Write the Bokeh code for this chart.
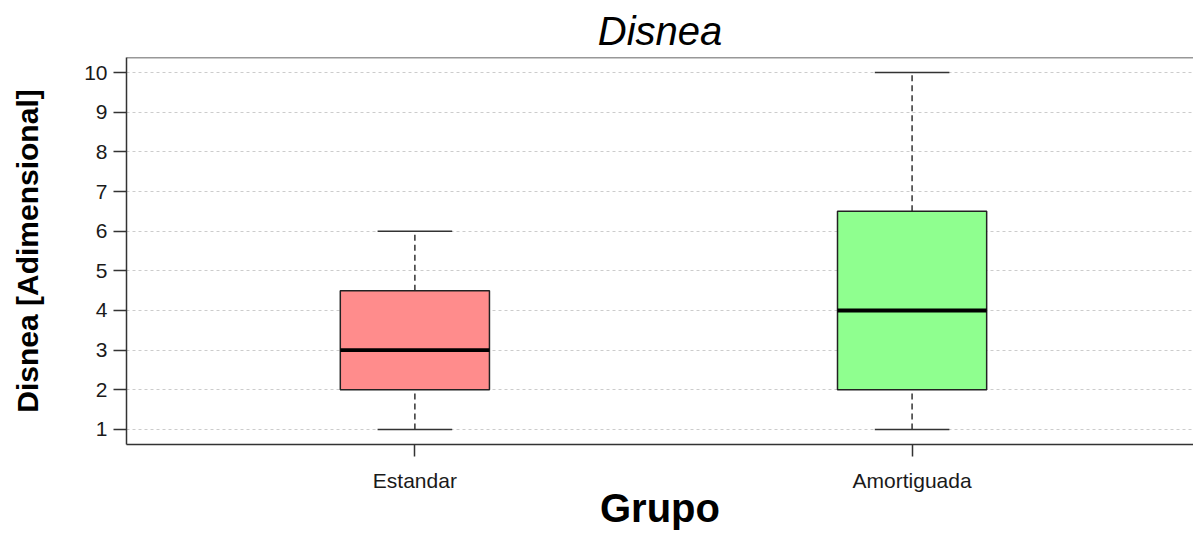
from bokeh.plotting import figure
from bokeh.models import ColumnDataSource, FixedTicker, Range1d, Span
from bokeh.embed import file_html
from bokeh.resources import INLINE

# Five-number summaries for each group
groups = ["Estandar", "Amortiguada"]
positions = [1, 2]
mins = [1, 1]
q1s = [2, 2]
medians = [3, 4]
q3s = [4.5, 6.5]
maxs = [6, 10]
fill_colors = ["#FF8C8C", "#8FFF8F"]
y_ticks = [1, 2, 3, 4, 5, 6, 7, 8, 9, 10]

BOX_W = 0.3
CAP_W = 0.15
FONT = "Liberation Sans"

src = ColumnDataSource(dict(
    x=positions, lo=mins, q1=q1s, med=medians, q3=q3s, hi=maxs,
    x0=[p - BOX_W / 2 for p in positions], x1=[p + BOX_W / 2 for p in positions],
    c0=[p - CAP_W / 2 for p in positions], c1=[p + CAP_W / 2 for p in positions],
    color=fill_colors,
))

p = figure(width=1193, height=533, output_backend="svg", toolbar_location=None,
           x_range=Range1d(0.42, 2.566), y_range=Range1d(0.62, 10.38),
           min_border_left=126, min_border_right=0, min_border_top=57,
           min_border_bottom=89, title="Disnea")

p.background_fill_color = "white"
p.border_fill_color = "white"
p.outline_line_color = None

p.title.text_font = FONT
p.title.text_font_style = "italic"
p.title.text_font_size = "40px"
p.title.text_color = "black"
p.title.align = "center"
p.title.standoff = 10

# Whiskers (dashed) from box to extremes
p.segment(x0="x", y0="q3", x1="x", y1="hi", source=src, line_color="#333333",
          line_width=1.5, line_dash="6 4")
p.segment(x0="x", y0="lo", x1="x", y1="q1", source=src, line_color="#333333",
          line_width=1.5, line_dash="6 4")

# Boxes
p.quad(left="x0", right="x1", bottom="q1", top="q3", source=src,
       fill_color="color", line_color="#222222", line_width=1.5)

# Medians
p.segment(x0="x0", y0="med", x1="x1", y1="med", source=src,
          line_color="black", line_width=3.8)

# Staples
p.segment(x0="c0", y0="hi", x1="c1", y1="hi", source=src, line_color="#333333", line_width=1.5)
p.segment(x0="c0", y0="lo", x1="c1", y1="lo", source=src, line_color="#333333", line_width=1.5)

# Top border of the panel
p.add_layout(Span(location=10.38, dimension="width", line_color="#333333", line_width=1.5))

# Grid: dotted horizontal lines at every integer
p.xgrid.visible = False
p.ygrid.ticker = FixedTicker(ticks=y_ticks)
p.ygrid.grid_line_color = "#cccccc"
p.ygrid.grid_line_dash = "3 3"
p.ygrid.grid_line_width = 1

# Y axis
p.yaxis.ticker = FixedTicker(ticks=y_ticks)
p.yaxis.axis_label = "Disnea [Adimensional]"
p.yaxis.axis_label_text_font = FONT
p.yaxis.axis_label_text_font_style = "bold"
p.yaxis.axis_label_text_font_size = "30px"
p.yaxis.axis_label_text_color = "black"
p.yaxis.axis_label_standoff = 37
p.yaxis.major_label_text_font = FONT
p.yaxis.major_label_text_font_size = "21px"
p.yaxis.major_label_text_color = "#1a1a1a"
p.yaxis.major_label_standoff = 6
p.yaxis.major_tick_out = 13
p.yaxis.major_tick_in = 0
p.yaxis.minor_tick_line_color = None
p.yaxis.major_tick_line_color = "#333333"
p.yaxis.major_tick_line_width = 1.5
p.yaxis.axis_line_color = "#333333"
p.yaxis.axis_line_width = 1.5

# X axis
p.xaxis.ticker = FixedTicker(ticks=positions)
p.xaxis.major_label_overrides = {pos: g for pos, g in zip(positions, groups)}
p.xaxis.axis_label = "Grupo"
p.xaxis.axis_label_text_font = FONT
p.xaxis.axis_label_text_font_style = "bold"
p.xaxis.axis_label_text_font_size = "40px"
p.xaxis.axis_label_text_color = "black"
p.xaxis.axis_label_standoff = -9
p.xaxis.major_label_text_font = FONT
p.xaxis.major_label_text_font_size = "21px"
p.xaxis.major_label_text_color = "#1a1a1a"
p.xaxis.major_label_standoff = 12
p.xaxis.major_tick_out = 12
p.xaxis.major_tick_in = 0
p.xaxis.minor_tick_line_color = None
p.xaxis.major_tick_line_color = "#333333"
p.xaxis.major_tick_line_width = 1.5
p.xaxis.axis_line_color = "#333333"
p.xaxis.axis_line_width = 1.5

open("out.html", "w").write(file_html(p, INLINE))
